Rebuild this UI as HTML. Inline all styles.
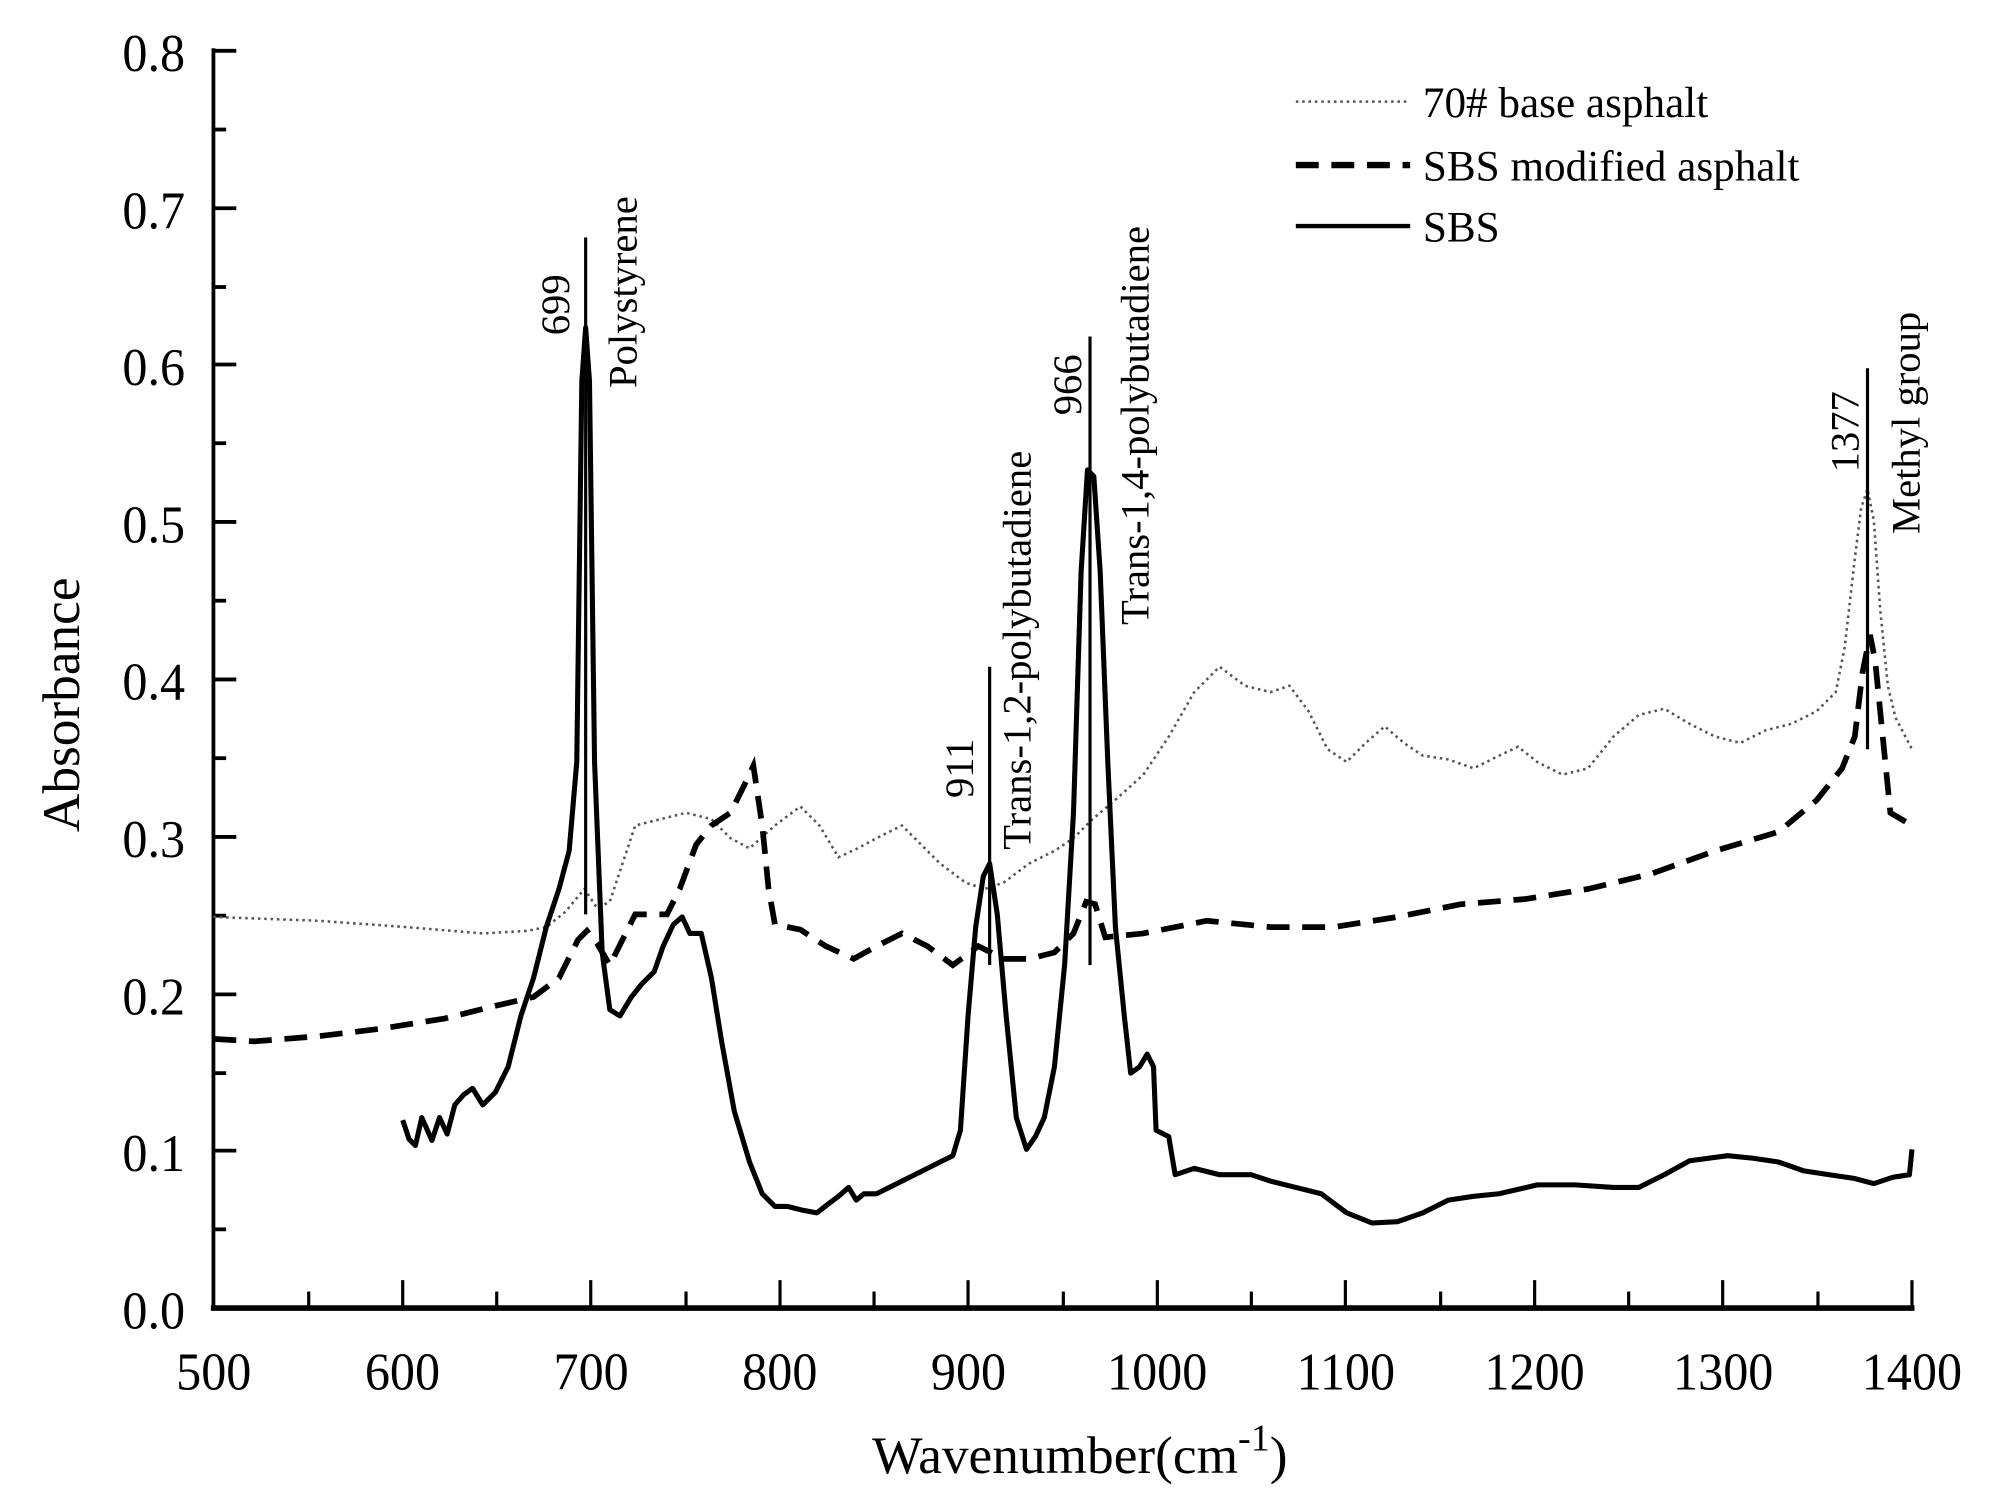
<!DOCTYPE html>
<html><head><meta charset="utf-8"><style>
html,body{margin:0;padding:0;background:#fff;}
svg{display:block;}
text{font-family:"Liberation Serif",serif;fill:#000;}
</style></head><body>
<svg width="1992" height="1510" viewBox="0 0 1568 1189" preserveAspectRatio="none" xmlns="http://www.w3.org/2000/svg">
<rect width="1568" height="1189" fill="#fff"/>
<line x1="168" y1="38" x2="168" y2="1031" stroke="#000" stroke-width="3"/>
<line x1="166" y1="1030" x2="1507" y2="1030" stroke="#000" stroke-width="4.5"/>
<g stroke="#000" stroke-width="3">
<line x1="168" y1="40" x2="186" y2="40"/><line x1="168" y1="102" x2="178" y2="102"/>
<line x1="168" y1="164" x2="186" y2="164"/><line x1="168" y1="226" x2="178" y2="226"/>
<line x1="168" y1="287" x2="186" y2="287"/><line x1="168" y1="349" x2="178" y2="349"/>
<line x1="168" y1="411" x2="186" y2="411"/><line x1="168" y1="473" x2="178" y2="473"/>
<line x1="168" y1="535" x2="186" y2="535"/><line x1="168" y1="597" x2="178" y2="597"/>
<line x1="168" y1="659" x2="186" y2="659"/><line x1="168" y1="721" x2="178" y2="721"/>
<line x1="168" y1="783" x2="186" y2="783"/><line x1="168" y1="845" x2="178" y2="845"/>
<line x1="168" y1="906" x2="186" y2="906"/><line x1="168" y1="968" x2="178" y2="968"/>
</g>
<g stroke="#000" stroke-width="2.5">
<line x1="243" y1="1030" x2="243" y2="1017"/><line x1="317" y1="1030" x2="317" y2="1008"/>
<line x1="391" y1="1030" x2="391" y2="1017"/><line x1="465" y1="1030" x2="465" y2="1008"/>
<line x1="540" y1="1030" x2="540" y2="1017"/><line x1="614" y1="1030" x2="614" y2="1008"/>
<line x1="688" y1="1030" x2="688" y2="1017"/><line x1="762" y1="1030" x2="762" y2="1008"/>
<line x1="837" y1="1030" x2="837" y2="1017"/><line x1="911" y1="1030" x2="911" y2="1008"/>
<line x1="985" y1="1030" x2="985" y2="1017"/><line x1="1059" y1="1030" x2="1059" y2="1008"/>
<line x1="1134" y1="1030" x2="1134" y2="1017"/><line x1="1208" y1="1030" x2="1208" y2="1008"/>
<line x1="1282" y1="1030" x2="1282" y2="1017"/><line x1="1356" y1="1030" x2="1356" y2="1008"/>
<line x1="1431" y1="1030" x2="1431" y2="1017"/><line x1="1505" y1="1030" x2="1505" y2="1008"/>
</g>
<g font-size="42" text-anchor="end" transform="scale(0.94,1)">
<text x="155" y="56">0.8</text><text x="155" y="180">0.7</text><text x="155" y="303">0.6</text>
<text x="155" y="427">0.5</text><text x="155" y="551">0.4</text><text x="155" y="675">0.3</text>
<text x="155" y="799">0.2</text><text x="155" y="922">0.1</text><text x="155" y="1046">0.0</text>
</g>
<g font-size="42" text-anchor="middle" transform="scale(0.94,1)">
<text x="179" y="1094">500</text><text x="337" y="1094">600</text><text x="495" y="1094">700</text>
<text x="653" y="1094">800</text><text x="811" y="1094">900</text><text x="969" y="1094">1000</text>
<text x="1127" y="1094">1100</text><text x="1285" y="1094">1200</text><text x="1443" y="1094">1300</text>
<text x="1601" y="1094">1400</text>
</g>
<text x="850" y="1160" font-size="42" text-anchor="middle">Wavenumber(cm<tspan dy="-18" font-size="30">-1</tspan><tspan dy="18">)</tspan></text>
<text transform="translate(62,555) rotate(-90)" font-size="42" text-anchor="middle">Absorbance</text>
<line x1="1020" y1="80" x2="1110" y2="80" stroke="#555" stroke-width="2" stroke-dasharray="2,3"/>
<text x="1120" y="92" font-size="34">70# base asphalt</text>
<line x1="1020" y1="130" x2="1110" y2="130" stroke="#000" stroke-width="5" stroke-dasharray="18,10"/>
<text x="1120" y="142" font-size="34">SBS modified asphalt</text>
<line x1="1020" y1="178" x2="1110" y2="178" stroke="#000" stroke-width="3.5"/>
<text x="1120" y="190" font-size="34">SBS</text>
<polyline fill="none" stroke="#555" stroke-width="2" stroke-dasharray="2,3" points="168,722 250,725 320,730 380,735 415,733 430,730 445,718 460,700 470,715 480,710 490,680 500,650 520,645 540,640 560,645 575,660 590,668 610,650 630,635 645,650 660,675 675,668 690,660 710,650 725,665 740,680 760,695 775,700 790,695 810,680 830,670 845,660 860,645 880,628 900,610 920,580 940,545 960,525 980,540 1000,545 1015,540 1030,560 1045,590 1060,600 1075,585 1090,572 1105,585 1120,595 1140,598 1160,605 1180,595 1195,588 1210,600 1230,610 1250,605 1270,580 1290,563 1310,558 1330,570 1350,580 1370,585 1390,575 1410,570 1430,560 1445,545 1452,510 1460,440 1465,400 1470,385 1475,410 1480,480 1486,540 1492,565 1505,590"/>
<polyline fill="none" stroke="#000" stroke-width="4.5" stroke-dasharray="18,10" points="168,818 200,820 250,816 300,810 350,802 390,792 420,785 440,770 455,740 462,733 470,743 480,760 490,740 500,720 510,720 525,720 535,700 548,665 560,650 575,640 585,620 593,603 600,650 605,700 610,728 630,732 650,745 672,755 690,745 710,735 730,745 750,760 770,745 790,755 810,755 830,750 845,735 855,710 862,712 870,738 900,735 950,725 1000,730 1050,730 1100,722 1150,712 1200,708 1250,700 1300,688 1350,670 1400,655 1430,630 1450,605 1460,580 1466,530 1472,500 1476,520 1482,580 1488,640 1505,650"/>
<polyline fill="none" stroke="#000" stroke-width="4" stroke-linejoin="round" points="317,882 322,897 327,902 332,880 340,898 346,880 352,893 358,870 365,862 372,857 380,870 390,860 400,840 410,800 420,770 430,730 440,700 448,670 454,600 458,300 461,258 464,300 468,600 474,750 480,795 488,800 497,785 505,775 515,765 522,745 530,728 537,722 543,735 552,735 560,770 568,820 578,875 590,915 600,940 610,950 620,950 632,953 643,955 652,948 660,942 668,935 674,945 680,940 690,940 700,935 710,930 720,925 740,915 750,910 756,890 762,800 768,730 774,690 779,680 785,720 792,800 800,880 808,905 815,895 822,880 830,840 838,760 845,640 851,450 856,370 861,375 866,450 872,600 878,730 885,800 890,845 897,840 903,830 908,840 910,890 920,895 925,925 940,920 960,925 985,925 1000,930 1020,935 1040,940 1060,955 1080,963 1100,962 1120,955 1140,945 1160,942 1180,940 1210,933 1240,933 1270,935 1290,935 1310,925 1330,914 1360,910 1380,912 1400,915 1420,922 1440,925 1460,928 1475,932 1490,927 1503,925 1505,905"/>
<g stroke="#000" stroke-width="2.5">
<line x1="461" y1="187" x2="461" y2="720"/>
<line x1="779" y1="525" x2="779" y2="760"/>
<line x1="858" y1="265" x2="858" y2="760"/>
<line x1="1470" y1="290" x2="1470" y2="590"/>
</g>
<g font-size="32">
<text transform="translate(448,240) rotate(-90)" text-anchor="middle">699</text>
<text transform="translate(501,230) rotate(-90)" text-anchor="middle">Polystyrene</text>
<text transform="translate(766,605) rotate(-90)" text-anchor="middle">911</text>
<text transform="translate(811,512) rotate(-90)" text-anchor="middle">Trans-1,2-polybutadiene</text>
<text transform="translate(851,303) rotate(-90)" text-anchor="middle">966</text>
<text transform="translate(904,335) rotate(-90)" text-anchor="middle">Trans-1,4-polybutadiene</text>
<text transform="translate(1463,340) rotate(-90)" text-anchor="middle">1377</text>
<text transform="translate(1511,333) rotate(-90)" text-anchor="middle">Methyl group</text>
</g>
</svg>
</body></html>
